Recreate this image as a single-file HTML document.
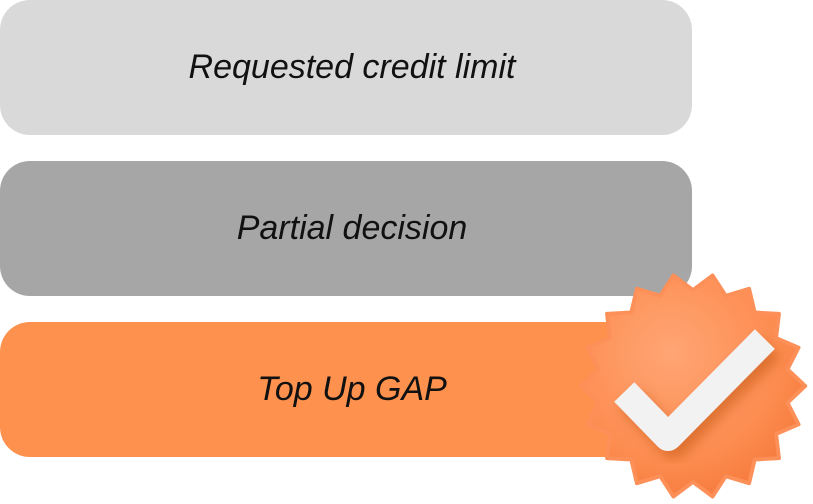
<!DOCTYPE html>
<html><head><meta charset="utf-8"><style>
html,body{margin:0;padding:0;background:#fff;width:813px;height:504px;overflow:hidden}
.b{position:absolute;left:0;width:692px;height:135px;border-radius:30px;display:flex;align-items:center;justify-content:center;font-family:"Liberation Sans",sans-serif;font-style:italic;font-size:34px;color:#111}
</style></head><body>
<div class="b" style="top:0;background:#d9d9d9;padding-left:12px;box-sizing:border-box">Requested credit limit</div>
<div class="b" style="top:161px;background:#a6a6a6;padding-left:12px;box-sizing:border-box">Partial decision</div>
<div class="b" style="top:322px;background:#fd914d;padding-left:12px;box-sizing:border-box">Top Up GAP</div>
<svg width="813" height="504" style="position:absolute;left:0;top:0">
<defs>
<radialGradient id="g" cx="0.4" cy="0.35" r="0.7">
<stop offset="0" stop-color="#ffa574"/><stop offset="0.7" stop-color="#fd8c50"/><stop offset="1" stop-color="#f57a3c"/>
</radialGradient>
<filter id="s" x="-30%" y="-30%" width="160%" height="160%"><feDropShadow dx="6" dy="8" stdDeviation="6" flood-color="#b84a10" flood-opacity="0.45"/></filter>
</defs>
<g transform="translate(693,386) scale(0.96)">
<polygon fill="url(#g)" stroke="#fd9058" stroke-width="4" stroke-linejoin="round" points="117,0 98.5,17.4 110,40 86.6,50 89.6,75.2 64.3,76.6 58.5,101.3 34.2,94 20.4,115.2 0,100 -20.4,115.2 -34.2,94 -58.5,101.3 -64.3,76.6 -89.6,75.2 -86.6,50 -110,40 -98.5,17.4 -117,0 -98.5,-17.4 -110,-40 -86.6,-50 -89.6,-75.2 -64.3,-76.6 -58.5,-101.3 -34.2,-94 -20.4,-115.2 0,-100 20.4,-115.2 34.2,-94 58.5,-101.3 64.3,-76.6 89.6,-75.2 86.6,-50 110,-40 98.5,-17.4"/>
</g>
<polyline filter="url(#s)" points="634,402 668,437 755,349" fill="none" stroke="#f2f2f2" stroke-width="28" stroke-linejoin="round" stroke-linecap="square"/>
</svg>
</body></html>
